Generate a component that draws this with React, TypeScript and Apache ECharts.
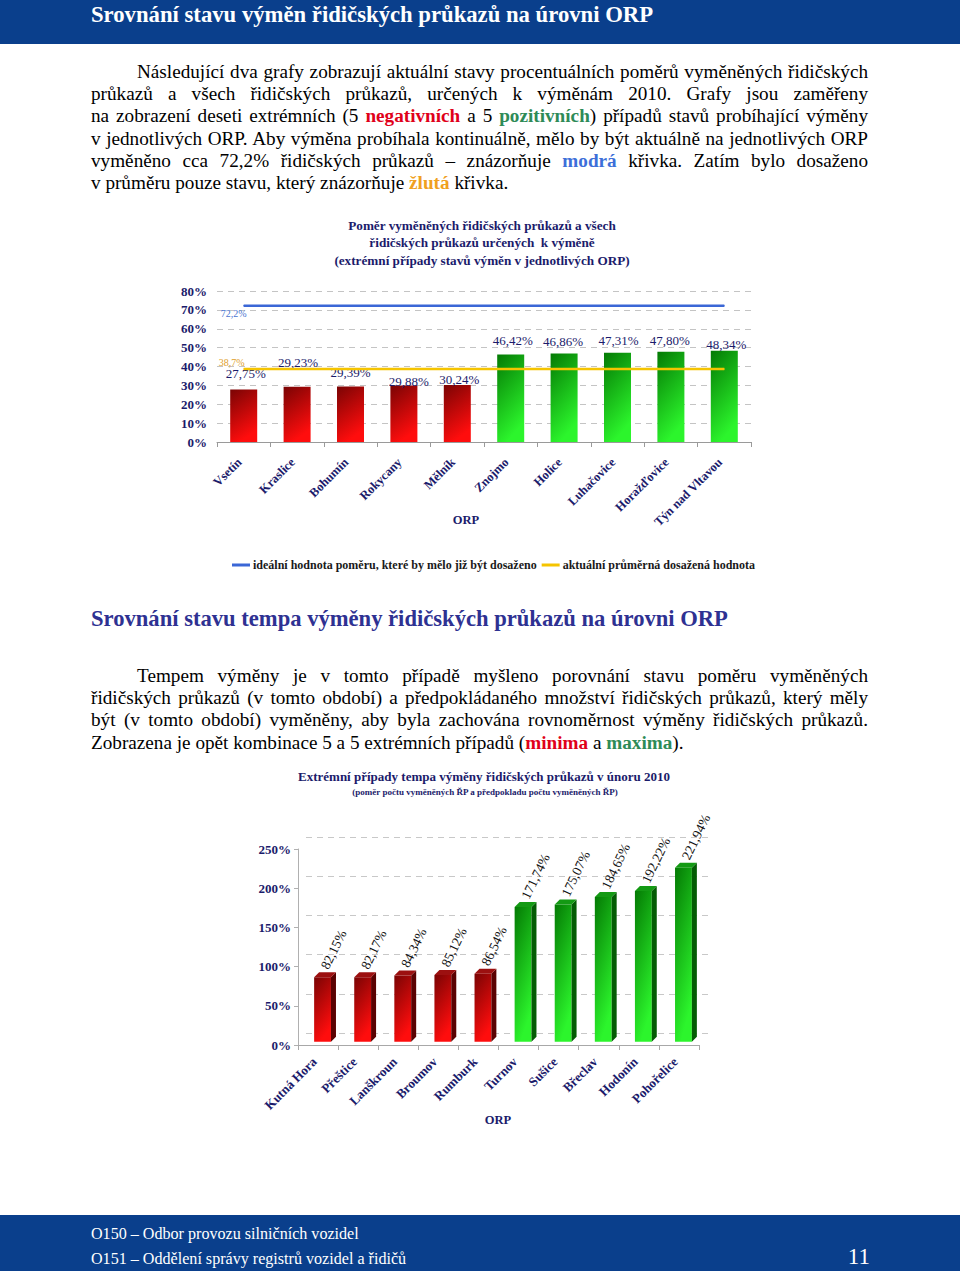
import React, { useEffect, useRef } from "react";
import * as echarts from "echarts";

// ---------- data ----------
const orp1 = ["Vsetín", "Kraslice", "Bohumín", "Rokycany", "Mělník", "Znojmo", "Holice", "Luhačovice", "Horažďovice", "Týn nad Vltavou"];
const ratio1 = [27.75, 29.23, 29.39, 29.88, 30.24, 46.42, 46.86, 47.31, 47.8, 48.34];
const ideal1 = 72.2;
const average1 = 38.7;
const orp2 = ["Kutná Hora", "Přeštice", "Lanškroun", "Broumov", "Rumburk", "Turnov", "Sušice", "Břeclav", "Hodonín", "Pohořelice"];
const tempo2 = [82.15, 82.17, 84.34, 85.12, 86.54, 171.74, 175.07, 184.65, 192.22, 221.94];
const negativeCount = 5;
const legendNames = ["ideální hodnota poměru, které by mělo již být dosaženo", "aktuální průměrná dosažená hodnota"];

// label nudges (style only)
const barLabelNudge = [[2, -10], [1, -18], [0, -8], [5, 2], [2, 1], [2, -7], [-1, -6], [1, -6], [-1, -5], [2, 0]];

const SERIF = '"Liberation Serif", "Times New Roman", serif';
const NAVY = "#1b1b6b";
const BLUE_BAND = "#0a3f8c";

const fmt = (v: number, d = 2) => v.toFixed(d).replace(".", ",") + "%";

const para1 = [
  { left: 137, parts: [["Následující dva grafy zobrazují aktuální stavy procentuálních poměrů vyměněných řidičských", ""]] },
  { left: 91, parts: [["průkazů a všech řidičských průkazů, určených k\u00a0výměnám 2010. Grafy jsou zaměřeny", ""]] },
  { left: 91, parts: [["na zobrazení deseti extrémních (5 ", ""], ["negativních", "#e0001a"], [" a 5 ", ""], ["pozitivních", "#2e8b57"], [") případů stavů probíhající výměny", ""]] },
  { left: 91, parts: [["v jednotlivých ORP. Aby výměna probíhala kontinuálně, mělo by být aktuálně na jednotlivých ORP", ""]] },
  { left: 91, parts: [["vyměněno cca 72,2% řidičských průkazů – znázorňuje ", ""], ["modrá", "#3d6fd9"], [" křivka. Zatím bylo dosaženo", ""]] },
  { left: 91, last: true, parts: [["v průměru pouze stavu, který znázorňuje ", ""], ["žlutá", "#f0a020"], [" křivka.", ""]] },
];
const para2 = [
  { left: 137, parts: [["Tempem výměny je v\u00a0tomto případě myšleno porovnání stavu poměru vyměněných", ""]] },
  { left: 91, parts: [["řidičských průkazů (v tomto období) a předpokládaného množství řidičských průkazů, který měly", ""]] },
  { left: 91, parts: [["být (v tomto období) vyměněny, aby byla zachována rovnoměrnost výměny řidičských průkazů.", ""]] },
  { left: 91, last: true, parts: [["Zobrazena je opět kombinace 5 a 5 extrémních případů (", ""], ["minima", "#e0001a"], [" a ", ""], ["maxima", "#2e8b57"], [").", ""]] },
];

function Para({ lines, firstCenter }: { lines: any[]; firstCenter: number }) {
  return (
    <>
      {lines.map((ln, i) => (
        <div
          key={i}
          style={{
            position: "absolute",
            left: ln.left,
            width: 868 - ln.left,
            top: firstCenter - 11 + i * 22.2,
            height: 22,
            lineHeight: "22px",
            fontSize: 19.2,
            fontFamily: SERIF,
            color: "#000",
            whiteSpace: "nowrap",
            textAlign: ln.last ? "left" : "justify",
            textAlignLast: ln.last ? "left" : "justify",
          } as any}
        >
          {ln.parts.map((p: string[], j: number) =>
            p[1] ? (
              <span key={j} style={{ color: p[1], fontWeight: "bold" }}>{p[0]}</span>
            ) : (
              <span key={j}>{p[0]}</span>
            )
          )}
        </div>
      ))}
    </>
  );
}

export default function App() {
  const ref = useRef<HTMLDivElement>(null);

  useEffect(() => {
    if (!ref.current) return;
    const chart = echarts.init(ref.current, undefined, { renderer: "svg" });

    const redGrad = () =>
      new echarts.graphic.LinearGradient(0, 0, 0.35, 1, [
        { offset: 0, color: "#7a0404" },
        { offset: 1, color: "#ff0d0d" },
      ]);
    const greenGrad = () =>
      new echarts.graphic.LinearGradient(0, 0, 0.35, 1, [
        { offset: 0, color: "#047a04" },
        { offset: 1, color: "#2cf52c" },
      ]);

    const axisLabelStyle = { fontFamily: SERIF, fontWeight: "bold" as const, color: NAVY, fontSize: 13 };

    const option: any = {
      animation: false,
      graphic: [
        { type: "text", x: 482, y: 225, style: { text: "Poměr vyměněných řidičských průkazů a všech", font: `bold 13.2px ${SERIF}`, fill: NAVY, textAlign: "center", textVerticalAlign: "middle" } },
        { type: "text", x: 482, y: 242, style: { text: "řidičských průkazů určených  k výměně", font: `bold 13.2px ${SERIF}`, fill: NAVY, textAlign: "center", textVerticalAlign: "middle" } },
        { type: "text", x: 482, y: 260, style: { text: "(extrémní případy stavů výměn v jednotlivých ORP)", font: `bold 13.2px ${SERIF}`, fill: NAVY, textAlign: "center", textVerticalAlign: "middle" } },
        { type: "text", x: 466, y: 520, style: { text: "ORP", font: `bold 12.5px ${SERIF}`, fill: NAVY, textAlign: "center", textVerticalAlign: "middle" } },
        { type: "text", x: 484, y: 776, style: { text: "Extrémní případy tempa výměny řidičských průkazů v únoru 2010", font: `bold 13px ${SERIF}`, fill: NAVY, textAlign: "center", textVerticalAlign: "middle" } },
        { type: "text", x: 485, y: 792, style: { text: "(poměr počtu vyměněných ŘP a předpokladu počtu vyměněných ŘP)", font: `bold 9px ${SERIF}`, fill: NAVY, textAlign: "center", textVerticalAlign: "middle" } },
        { type: "text", x: 498, y: 1120, style: { text: "ORP", font: `bold 12.5px ${SERIF}`, fill: NAVY, textAlign: "center", textVerticalAlign: "middle" } },
      ],
      legend: {
        left: 227,
        top: 554,
        icon: "rect",
        itemWidth: 18,
        itemHeight: 3,
        itemGap: 5,
        data: legendNames,
        textStyle: { fontFamily: SERIF, fontWeight: "bold", fontSize: 12, color: "#1a1a1a", padding: [0, 0, 0, -2] },
      },
      grid: [
        { left: 217, top: 291, width: 534, height: 151 },
        { left: 298, top: 849, width: 401, height: 196 },
        { left: 306, top: 837, width: 406, height: 196 },
      ],
      xAxis: [
        {
          type: "category",
          gridIndex: 0,
          data: orp1,
          axisLine: { lineStyle: { color: "#9a9a9a" } },
          axisTick: { show: true, lineStyle: { color: "#9a9a9a" } },
          axisLabel: { ...axisLabelStyle, fontSize: 12.5, rotate: 45, interval: 0, margin: 14, padding: [0, 6, 0, 0] },
        },
        {
          type: "category",
          gridIndex: 1,
          data: orp2,
          axisLine: { lineStyle: { color: "#a8a8a8" } },
          axisTick: { show: true, lineStyle: { color: "#a8a8a8" } },
          axisLabel: { ...axisLabelStyle, fontSize: 13, rotate: 45, interval: 0, margin: 11, padding: [0, 5, 0, 0] },
        },
        { type: "category", gridIndex: 2, data: orp2, show: false },
      ],
      yAxis: [
        {
          type: "value",
          gridIndex: 0,
          min: 0,
          max: 80,
          interval: 10,
          axisLine: { show: false },
          axisTick: { show: false },
          axisLabel: { ...axisLabelStyle, margin: 10, formatter: "{value}%" },
          splitLine: { lineStyle: { color: "#c4c4c4", type: [6, 5] } },
        },
        {
          type: "value",
          gridIndex: 1,
          min: 0,
          max: 250,
          interval: 50,
          axisLine: { show: true, lineStyle: { color: "#b0b0b0" } },
          axisTick: { show: true, length: 4, lineStyle: { color: "#b0b0b0" } },
          axisLabel: { ...axisLabelStyle, margin: 7, formatter: "{value}%" },
          splitLine: { show: false },
        },
        {
          type: "value",
          gridIndex: 2,
          min: 0,
          max: 250,
          interval: 50,
          axisLine: { show: false },
          axisTick: { show: false },
          axisLabel: { show: false },
          splitLine: { lineStyle: { color: "#c8c8c8", type: [6, 5] } },
        },
      ],
      series: [
        {
          type: "bar",
          xAxisIndex: 0,
          yAxisIndex: 0,
          barWidth: 27,
          z: 2,
          data: ratio1.map((v, i) => ({
            value: v,
            itemStyle: { color: i < negativeCount ? redGrad() : greenGrad() },
            label: { offset: barLabelNudge[i] },
          })),
          label: {
            show: true,
            position: "top",
            distance: 0,
            formatter: (p: any) => fmt(p.value),
            fontFamily: SERIF,
            fontSize: 13,
            color: NAVY,
          },
        },
        {
          name: legendNames[0],
          type: "line",
          xAxisIndex: 0,
          yAxisIndex: 0,
          symbol: "circle",
          symbolSize: 1,
          showSymbol: true,
          z: 3,
          lineStyle: { color: "#3b67d6", width: 2.5 },
          itemStyle: { color: "#3b67d6" },
          data: orp1.map((_, i) =>
            i === 0
              ? {
                  value: ideal1,
                  label: {
                    show: true,
                    position: "bottom",
                    distance: 2,
                    offset: [-10, 0],
                    formatter: () => fmt(ideal1, 1),
                    fontFamily: SERIF,
                    fontSize: 10,
                    color: "#4a74d0",
                  },
                }
              : ideal1
          ),
        },
        {
          name: legendNames[1],
          type: "line",
          xAxisIndex: 0,
          yAxisIndex: 0,
          symbol: "circle",
          symbolSize: 1,
          showSymbol: true,
          z: 3,
          lineStyle: { color: "#f5c400", width: 2.5 },
          itemStyle: { color: "#f5c400" },
          data: orp1.map((_, i) =>
            i === 0
              ? {
                  value: average1,
                  label: {
                    show: true,
                    position: "top",
                    distance: 1,
                    offset: [-12, 0],
                    formatter: () => fmt(average1, 1),
                    fontFamily: SERIF,
                    fontSize: 10,
                    color: "#e0a02a",
                  },
                }
              : average1
          ),
        },
        {
          type: "custom",
          xAxisIndex: 1,
          yAxisIndex: 1,
          encode: { x: 0, y: 1 },
          data: tempo2.map((v, i) => [i, v]),
          renderItem: (params: any, api: any) => {
            const i = api.value(0);
            const v = api.value(1);
            const top = api.coord([i, v]);
            const base = api.coord([i, 0]);
            const cw = api.size([1, 0])[0];
            const w = cw * 0.42;
            const d = 5;
            const lift = 3.3;
            const x1 = top[0] + 4.5 - w / 2;
            const x2 = x1 + w;
            const yt = top[1] - lift;
            const yb = base[1] - lift;
            const neg = i < negativeCount;
            const front = neg ? redGrad() : greenGrad();
            const side = neg ? "#5a0202" : "#045c04";
            const topc = neg ? "#9c1010" : "#149a14";
            const rot = (64 * Math.PI) / 180;
            return {
              type: "group",
              children: [
                { type: "rect", shape: { x: x1, y: yt, width: w, height: yb - yt }, style: { fill: front } },
                { type: "polygon", shape: { points: [[x2, yt], [x2 + d, yt - d], [x2 + d, yb - d], [x2, yb]] }, style: { fill: side } },
                { type: "polygon", shape: { points: [[x1, yt], [x1 + d, yt - d], [x2 + d, yt - d], [x2, yt]] }, style: { fill: topc } },
                {
                  type: "text",
                  x: x1 + w / 2 + 2,
                  y: yt - 9,
                  rotation: rot,
                  style: {
                    text: fmt(v),
                    font: `13.5px ${SERIF}`,
                    fill: "#111",
                    textAlign: "left",
                    align: "left",
                    textVerticalAlign: "middle",
                    verticalAlign: "middle",
                  },
                },
              ],
            };
          },
        },
      ],
    };

    chart.setOption(option);
    return () => chart.dispose();
  }, []);

  return (
    <div style={{ position: "absolute", left: 0, top: 0, width: 960, height: 1271, background: "#fff", overflow: "hidden", fontFamily: SERIF }}>
      <div ref={ref} style={{ position: "absolute", left: 0, top: 0, width: 960, height: 1271 }} />
      <div style={{ position: "absolute", left: 0, top: 0, width: 960, height: 44, background: BLUE_BAND }} />
      <div style={{ position: "absolute", left: 91, top: 0, height: 30, lineHeight: "30px", fontSize: 22.7, fontWeight: "bold", color: "#fff", whiteSpace: "nowrap" }}>
        Srovnání stavu výměn řidičských průkazů na úrovni ORP
      </div>
      <Para lines={para1} firstCenter={72} />
      <div style={{ position: "absolute", left: 91, top: 604, height: 30, lineHeight: "30px", fontSize: 22.6, fontWeight: "bold", color: "#2e3192", whiteSpace: "nowrap" }}>
        Srovnání stavu tempa výměny řidičských průkazů na úrovni ORP
      </div>
      <Para lines={para2} firstCenter={676} />
      <div style={{ position: "absolute", left: 0, top: 1215, width: 960, height: 56, background: BLUE_BAND }} />
      <div style={{ position: "absolute", left: 91, top: 1224, height: 20, lineHeight: "20px", fontSize: 16.1, color: "#fff", whiteSpace: "nowrap" }}>
        O150 – Odbor provozu silničních vozidel
      </div>
      <div style={{ position: "absolute", left: 91, top: 1249, height: 20, lineHeight: "20px", fontSize: 16.1, color: "#fff", whiteSpace: "nowrap" }}>
        O151 – Oddělení správy registrů vozidel a řidičů
      </div>
      <div style={{ position: "absolute", right: 90, top: 1243, height: 28, lineHeight: "28px", fontSize: 23, color: "#fff", whiteSpace: "nowrap" }}>
        11
      </div>
    </div>
  );
}
